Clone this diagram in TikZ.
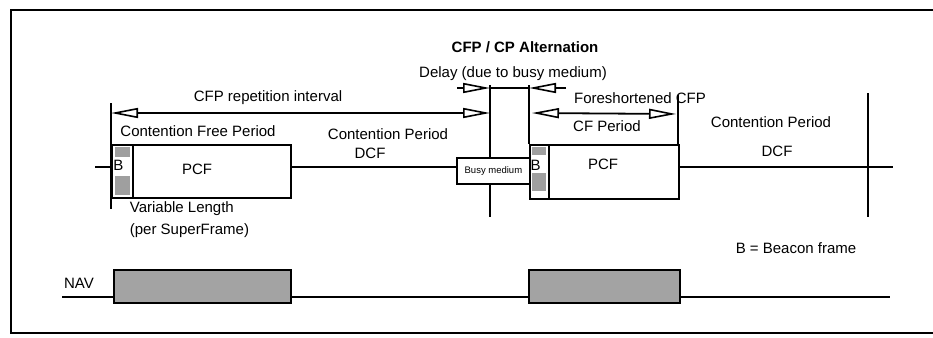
\documentclass[tikz,border=0pt]{standalone}
\usepackage{fontspec}
\setmainfont{Liberation Sans}
\usetikzlibrary{arrows.meta}
\begin{document}
\begin{tikzpicture}[x=1pt,y=-1pt,line width=1.8pt,
  box/.style={draw,fill=white,inner sep=0pt,line width=1.8pt,anchor=north west},
  navbox/.style={draw,fill=gray!72,inner sep=0pt,line width=2.2pt,anchor=north west},
  shade/.style={fill=gray!75,draw=none,inner sep=0pt,anchor=north west},
  lbl/.style={inner sep=0pt,text height=10.7pt,text depth=0pt,font=\fontsize{15}{17}\selectfont},
  bl/.style={inner sep=0pt,font=\fontsize{15}{17}\selectfont},
  oa/.style={-{Triangle[open,length=27pt,width=10pt,line width=1.6pt]}},
  oab/.style={{Triangle[open,length=27pt,width=10pt,line width=1.6pt]}-{Triangle[open,length=27pt,width=10pt,line width=1.6pt]}}]
\useasboundingbox (0,0) rectangle (933,337);
% frame
\draw[line width=2.4pt] (11,10) rectangle (950,333);

% vertical markers
\coordinate (v1t) at (111,103); \coordinate (v1b) at (111,209);
\coordinate (v2t) at (490,85);  \coordinate (v2b) at (490,217);
\coordinate (v3t) at (529,85);  \coordinate (v3b) at (529,144);
\coordinate (v4t) at (678,95);  \coordinate (v4b) at (678,198);
\coordinate (v5t) at (868,93);  \coordinate (v5b) at (868,217);
\draw (v1t) -- (v1b);
\draw (v2t) -- (v2b);
\draw (v3t) -- (v3b);
\draw (v4t) -- (v4b);
\draw (v5t) -- (v5b);

% timeline
\coordinate (tl0) at (95,167);
\coordinate (tl1) at (893,167);
\node[box,minimum width=21pt,minimum height=53pt] (b1) at (111,144) {};
\node[box,minimum width=158pt,minimum height=53pt] (pcf1) at (132,144) {};
\node[box,minimum width=73pt,minimum height=26pt] (busy) at (456,157) {};
\node[box,minimum width=19pt,minimum height=54pt] (b2) at (529,144) {};
\node[box,minimum width=130pt,minimum height=54pt] (pcf2) at (548,144) {};
\draw (tl0) -- (tl0 -| b1.west);
\draw (tl0 -| pcf1.east) -- (tl0 -| busy.west);
\draw (tl0 -| pcf2.east) -- (tl1);

% beacon column shading
\node[shade,minimum width=15pt,minimum height=10pt] (b1s1) at (114,146.5) {};
\node[shade,minimum width=15pt,minimum height=19pt] (b1s2) at (114,175.5) {};
\node[shade,minimum width=14pt,minimum height=8pt] (b2s1) at (531.5,146.5) {};
\node[shade,minimum width=14pt,minimum height=18pt] (b2s2) at (531.5,172.5) {};
\node[bl] (b1l) at (118.5,165) {B};
\node[bl] (b2l) at (535.5,165.5) {B};
\node[inner sep=0pt,font=\fontsize{9.5}{11}\selectfont] (busyl) at (busy.center) {Busy medium};

% arrows
\coordinate (cfpL) at (111,113); \coordinate (cfpR) at (490,113);
\draw[oab] (cfpL) -- (cfpR);
\coordinate (dl) at (457,88); \coordinate (dm1) at (490,88);
\coordinate (dm2) at (529,88); \coordinate (dr) at (566,88);
\draw[oa] (dl) -- (dm1);
\draw (dm1) -- (dm2);
\draw[oa] (dr) -- (dm2);
\coordinate (fsL) at (532,113); \coordinate (fsR) at (676,114);
\draw[oab] (fsL) -- (fsR);

% NAV
\coordinate (n0) at (62,297); \coordinate (n1) at (890,297);
\node[navbox,minimum width=177pt,minimum height=33pt] (nav1) at (113,269) {};
\node[navbox,minimum width=151pt,minimum height=33pt] (nav2) at (528,269) {};
\draw (n0) -- (n0 -| nav1.west);
\draw (n0 -| nav1.east) -- (n0 -| nav2.west);
\draw (n0 -| nav2.east) -- (n1);

% labels
\node[lbl,font=\fontsize{15}{17}\selectfont\bfseries] (t1) at (525,47) {CFP / CP Alternation};
\node[lbl] (t2) at (513,72) {Delay (due to busy medium)};
\node[lbl] (t3) at (268,96.5) {CFP repetition interval};
\node[lbl] (t4) at (198,131.5) {Contention Free Period};
\node[lbl] (t5) at (388,134.5) {Contention Period};
\node[lbl] (t6) at (370,153.5) {DCF};
\node[lbl] (t7) at (197,169) {PCF};
\node[lbl,anchor=west] (t8) at (129,207.5) {Variable Length};
\node[lbl,anchor=west] (t9) at (129,229.5) {(per SuperFrame)};
\node[lbl] (t10) at (640,98.5) {Foreshortened CFP};
\node[lbl] (t11) at (607,126.5) {CF Period};
\node[lbl] (t12) at (771,122) {Contention Period};
\node[lbl] (t13) at (777,151.5) {DCF};
\node[lbl] (t14) at (603,164.5) {PCF};
\node[lbl] (t15) at (79,283.5) {NAV};
\node[lbl] (t16) at (796,248.5) {B = Beacon frame};
\end{tikzpicture}
\end{document}
